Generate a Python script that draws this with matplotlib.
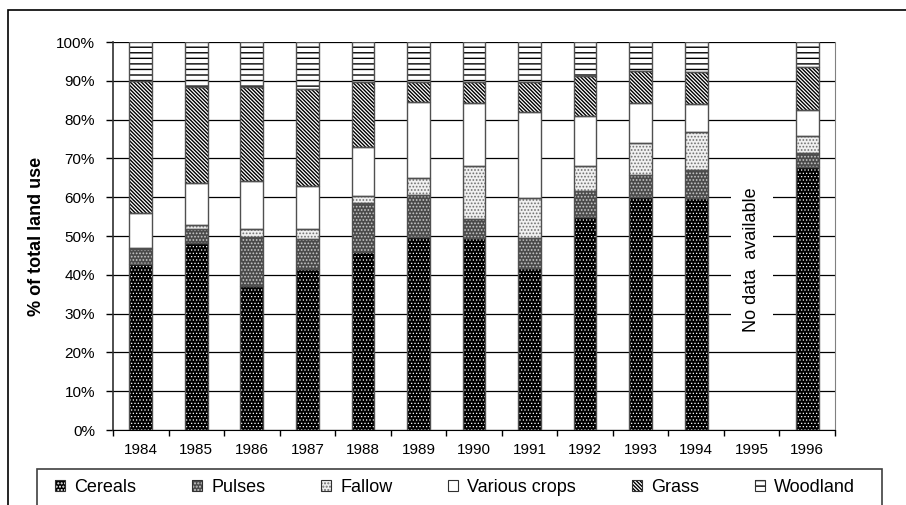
import numpy as np
import matplotlib
matplotlib.use("Agg")
import matplotlib.pyplot as plt
from matplotlib.patches import Rectangle, Patch

plt.rcParams['font.family'] = ['Liberation Sans', 'DejaVu Sans']

years = ['1984', '1985', '1986', '1987', '1988', '1989', '1990',
         '1991', '1992', '1993', '1994', '1995', '1996']
nan = np.nan
cereals  = [42.8, 48.1, 37.1, 41.5, 45.8, 49.8, 49.4, 41.7, 55.0, 60.1, 59.7, nan, 67.9]
pulses   = [3.8, 3.6, 12.6, 7.6, 12.6, 10.7, 5.1, 7.7, 6.7, 5.6, 7.3, nan, 3.4]
fallow   = [0.4, 1.1, 2.0, 2.6, 1.9, 4.4, 13.5, 10.3, 6.3, 8.2, 9.7, nan, 4.6]
various  = [9.0, 10.9, 12.6, 11.2, 12.6, 19.6, 16.2, 22.3, 12.8, 10.3, 7.2, nan, 6.7]
grass    = [34.0, 24.6, 24.0, 25.0, 16.7, 5.1, 5.4, 7.6, 10.4, 8.2, 8.4, nan, 10.9]
woodland = [10.0, 11.7, 11.7, 12.1, 10.4, 10.4, 10.4, 10.4, 8.8, 7.6, 7.7, nan, 6.5]
series_names = ['Cereals', 'Pulses', 'Fallow', 'Various crops', 'Grass', 'Woodland']
series = [cereals, pulses, fallow, various, grass, woodland]
y_ticks = list(range(0, 101, 10))
no_data_text = 'No data  available'

# style: (facecolor, hatchcolor, hatch, hatch linewidth)
styles = [
    ('#000000', '#ffffff', '.....', 0.5),
    ('#4a4a4a', '#c8c8c8', '.....', 0.8),
    ('#f0f0f0', '#707070', '.....', 0.8),
    ('#ffffff', '#ffffff', '', 1.0),
    ('#ffffff', '#000000', '\\' * 9, 1.0),
    ('#ffffff', '#000000', '---', 1.0),
]

fig = plt.figure(figsize=(9.06, 5.05), dpi=100)
ax = fig.add_axes([113/906, 1-430/505, (835-113)/906, (430-42)/505])

x = np.arange(len(years))
width = 0.41
bottom = np.zeros(len(years))
for vals, (fc, hc, h, hlw) in zip(series, styles):
    v = np.array(vals, dtype=float)
    mask = ~np.isnan(v)
    with plt.rc_context({'hatch.linewidth': hlw}):
        ax.bar(x[mask], v[mask], width, bottom=bottom[mask], color=fc,
               edgecolor=hc, hatch=h, linewidth=0, zorder=3)
    ax.bar(x[mask], v[mask], width, bottom=bottom[mask], fill=False,
           edgecolor='#505050', linewidth=1.0, zorder=4)
    bottom[mask] += v[mask]

ax.set_xlim(-0.5, len(years) - 0.5)
ax.set_ylim(0, 100)
ax.set_yticks(y_ticks)
ax.set_yticklabels([f'{t}%' for t in y_ticks], fontsize=11)
ax.set_xticks(x)
ax.set_xticklabels(years, fontsize=11)
ax.set_xticks(np.arange(len(years) + 1) - 0.5, minor=True)
ax.tick_params(axis='x', which='major', length=0, pad=9)
ax.tick_params(axis='x', which='minor', length=4, direction='out', width=1)
ax.tick_params(axis='y', length=5, direction='out', width=1, pad=8)
ax.yaxis.grid(True, color='black', linewidth=0.9, zorder=1)
ax.set_axisbelow(True)
ax.spines['top'].set_visible(False)
ax.spines['right'].set_color('#808080')
ax.spines['left'].set_color('#303030')
ax.spines['left'].set_linewidth(1.2)
ax.spines['bottom'].set_color('black')

ax.set_ylabel('% of total land use', fontsize=13, fontweight='bold', labelpad=8)

ax.text(11, 44, no_data_text, rotation=90, ha='center', va='center', fontsize=13,
        bbox=dict(facecolor='white', edgecolor='none', pad=9), zorder=5)

# outer figure border
fig.add_artist(Rectangle((8/906, -0.1), 1.2, 1.1 - 10/505, transform=fig.transFigure,
                         fill=False, edgecolor='black', linewidth=1.2))
# legend box
fig.add_artist(Rectangle((37/906, -0.1), (882-37)/906, 0.1 + 1 - 469/505,
                         transform=fig.transFigure, fill=False,
                         edgecolor='#404040', linewidth=1.2))

handles = []
for (fc, hc, h, hlw) in styles:
    with plt.rc_context({'hatch.linewidth': hlw}):
        p = Patch(facecolor=fc, edgecolor=hc, hatch=h, linewidth=0)
    border = Patch(fill=False, edgecolor='#303030', linewidth=0.8)
    handles.append((p, border))
fig.legend(handles, series_names, loc='center', bbox_to_anchor=(455/906, 1-487/505),
           ncol=6, frameon=False, fontsize=13, handlelength=0.55, handleheight=0.55,
           handletextpad=0.5, columnspacing=3.1)

fig.savefig('out.png', dpi=100)
